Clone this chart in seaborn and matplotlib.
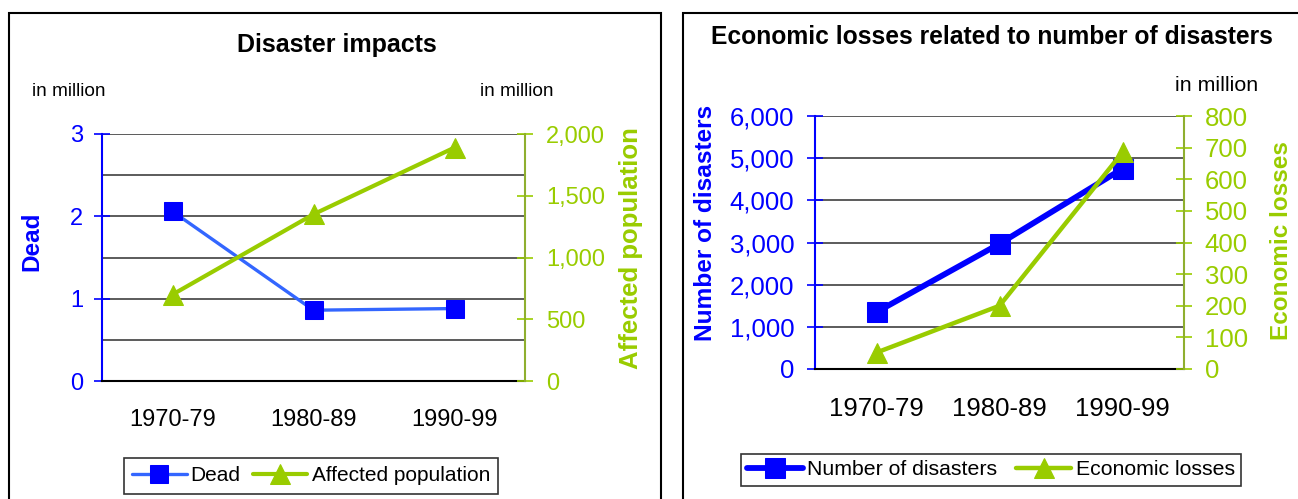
import matplotlib
matplotlib.use('Agg')
import matplotlib.pyplot as plt
import seaborn as sns
from matplotlib.patches import Rectangle
from matplotlib.ticker import FuncFormatter

# data
decades = ['1970-79', '1980-89', '1990-99']
dead = [2.06, 0.86, 0.88]              # million
affected = [700, 1350, 1890]           # million
n_disasters = [1350, 2970, 4750]
econ_losses = [52, 200, 685]           # million

blue = '#0000FF'
light_blue = '#3366FF'
green = '#99CC00'
olive = '#8FAF2F'
grid_col = '#404040'

sns.set_style('white')
plt.rcParams['font.family'] = ['Liberation Sans', 'DejaVu Sans']
plt.rcParams['text.color'] = 'black'
plt.rcParams['axes.labelcolor'] = 'black'
plt.rcParams['xtick.color'] = 'black'
plt.rcParams['ytick.color'] = 'black'

W, H = 1298, 499
fig = plt.figure(figsize=(W / 100, H / 100), dpi=100)


def box(x0, y0, x1, y1):
    return [x0 / W, 1 - y1 / H, (x1 - x0) / W, (y1 - y0) / H]


comma = FuncFormatter(lambda v, p: f'{v:,.0f}')

# ---- left chart: Disaster impacts
ax1 = fig.add_axes(box(102, 134, 525, 381))
ax1b = ax1.twinx()
sns.lineplot(x=decades, y=dead, ax=ax1, color=light_blue, lw=2.4, marker='s',
             markersize=13, markerfacecolor=blue, markeredgecolor=blue, label='Dead')
sns.lineplot(x=decades, y=affected, ax=ax1b, color=green, lw=3, marker='^',
             markersize=15, markerfacecolor=green, markeredgecolor=green,
             label='Affected population')

# ---- right chart: Economic losses related to number of disasters
ax2 = fig.add_axes(box(815, 116, 1184, 369))
ax2b = ax2.twinx()
sns.lineplot(x=decades, y=n_disasters, ax=ax2, color=blue, lw=4.2, marker='s',
             markersize=14, markerfacecolor=blue, markeredgecolor=blue,
             label='Number of disasters')
sns.lineplot(x=decades, y=econ_losses, ax=ax2b, color=green, lw=3.2, marker='^',
             markersize=15, markerfacecolor=green, markeredgecolor=green,
             label='Economic losses')


def style_pair(ax, axb, lmax, lstep, lminor, rmax, rstep, tick_fs, lpad, rpad, xpad):
    ax.set_ylim(0, lmax)
    axb.set_ylim(0, rmax)
    ax.set_yticks(list(range(0, lmax + 1, lstep)))
    if lminor:
        ax.set_yticks(lminor, minor=True)
    axb.set_yticks(list(range(0, rmax + 1, rstep)))
    ax.yaxis.grid(True, which='both', color=grid_col, lw=1.2)
    ax.xaxis.grid(False)
    axb.grid(False)
    ax.set_xlim(-0.5, 2.5)
    ax.set_xticks([-0.5, 0.5, 1.5, 2.5])
    ax.set_xticklabels([])
    ax.set_xticks([0, 1, 2], minor=True)
    ax.set_xticklabels(decades, minor=True)
    ax.tick_params(axis='x', which='major', direction='inout', length=12, width=1.2,
                   color='black')
    ax.tick_params(axis='x', which='minor', length=0, labelsize=tick_fs, pad=xpad,
                   labelcolor='black')
    ax.tick_params(axis='y', which='major', direction='inout', length=12, width=1.2,
                   color=blue, labelcolor=blue, labelsize=tick_fs, pad=lpad, left=True)
    ax.tick_params(axis='y', which='minor', length=0)
    axb.tick_params(axis='y', which='major', direction='inout', length=12, width=1.2,
                    color=green, labelcolor=green, labelsize=tick_fs, pad=rpad, right=True)
    axb.yaxis.set_major_formatter(comma)
    for s in ['top', 'right']:
        ax.spines[s].set_visible(False)
    ax.spines['left'].set_color(blue)
    ax.spines['left'].set_linewidth(1.5)
    ax.spines['bottom'].set_color('black')
    ax.spines['bottom'].set_linewidth(1.5)
    for s in ['top', 'left', 'bottom']:
        axb.spines[s].set_visible(False)
    axb.spines['right'].set_color(olive)
    axb.spines['right'].set_linewidth(1.5)
    ax.set_xlabel('')
    axb.set_xlabel('')
    ax.get_legend().remove()
    axb.get_legend().remove()


style_pair(ax1, ax1b, 3, 1, [0.5, 1.5, 2.5], 2000, 500, 17, 7.5, 9, 20)
style_pair(ax2, ax2b, 6000, 1000, None, 800, 100, 18.5, 9, 9, 20)
ax2.yaxis.set_major_formatter(comma)

# axis titles
ax1.set_ylabel('Dead', color=blue, fontsize=17.5, fontweight='bold')
ax1.yaxis.set_label_coords(-0.165, 0.567)
ax1.yaxis.label.set_va('center')
ax1b.set_ylabel('Affected population', color=green, fontsize=18.5, fontweight='bold')
ax1b.yaxis.set_label_coords(1.251, 0.538)
ax1b.yaxis.label.set_va('center')
ax2.set_ylabel('Number of disasters', color=blue, fontsize=17.6, fontweight='bold')
ax2.yaxis.set_label_coords(-0.298, 0.579)
ax2.yaxis.label.set_va('center')
ax2b.set_ylabel('Economic losses', color=green, fontsize=17.5, fontweight='bold')
ax2b.yaxis.set_label_coords(1.263, 0.506)
ax2b.yaxis.label.set_va('center')

# titles and unit notes
fig.text(337 / W, 1 - 45 / H, 'Disaster impacts', ha='center', va='center',
         fontsize=18, fontweight='bold')
fig.text(992 / W, 1 - 37 / H, 'Economic losses related to number of disasters',
         ha='center', va='center', fontsize=17.7, fontweight='bold')
fig.text(69 / W, 1 - 92 / H, 'in million', ha='center', va='center', fontsize=13.7)
fig.text(517 / W, 1 - 92 / H, 'in million', ha='center', va='center', fontsize=13.7)
fig.text(1217 / W, 1 - 85 / H, 'in million', ha='center', va='center', fontsize=15.4)

# legends
h1, l1 = ax1.get_legend_handles_labels()
h1b, l1b = ax1b.get_legend_handles_labels()
leg1 = fig.legend(h1 + h1b, l1 + l1b, loc='upper left', bbox_to_anchor=(124 / W, 1 - 458 / H),
                  ncol=2, frameon=True, fancybox=False, edgecolor='black', fontsize=15,
                  handlelength=2.6, handletextpad=0.2, columnspacing=0.6,
                  borderpad=0.4, borderaxespad=0)
leg1.get_frame().set_linewidth(1.2)

h2, l2 = ax2.get_legend_handles_labels()
h2b, l2b = ax2b.get_legend_handles_labels()
leg2 = fig.legend(h2 + h2b, l2 + l2b, loc='upper left', bbox_to_anchor=(741 / W, 1 - 454 / H),
                  ncol=2, frameon=True, fancybox=False, edgecolor='black', fontsize=15.3,
                  handlelength=2.6, handletextpad=0.2, columnspacing=0.9,
                  borderpad=0.3, borderaxespad=0)
leg2.get_frame().set_linewidth(1.2)

# panel frames
for x0, x1 in [(9, 661), (683, 1320)]:
    fig.add_artist(Rectangle((x0 / W, -0.1), (x1 - x0) / W, 1.1 - 13 / H,
                             transform=fig.transFigure, fill=False, edgecolor='black',
                             lw=1.5, clip_on=False))

fig.savefig('out.png', dpi=100)
